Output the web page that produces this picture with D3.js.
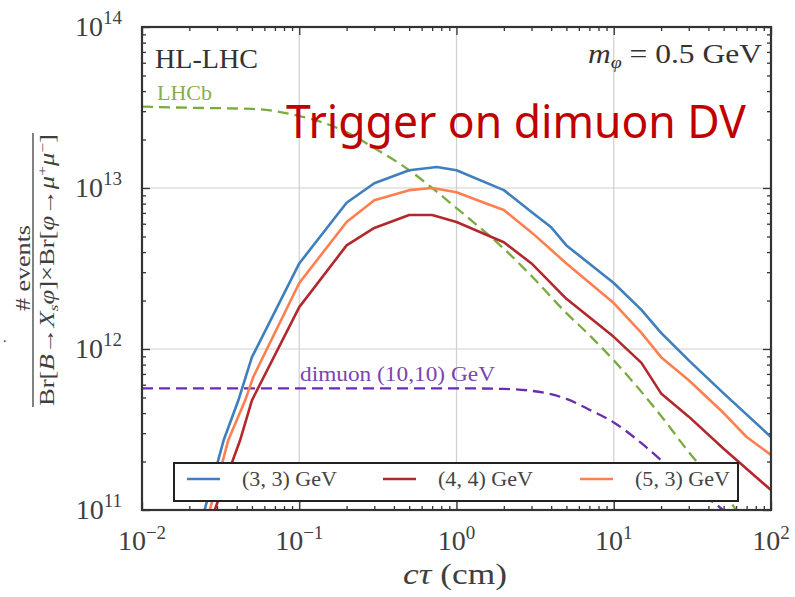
<!DOCTYPE html>
<html><head><meta charset="utf-8">
<script src="https://cdn.jsdelivr.net/npm/d3@7"></script>
<style>body{margin:0;background:#fff} svg{display:block}</style>
</head><body><svg id="c" width="795" height="597"></svg>
<script>
// ---- data ----
const ctBlue   = [0.02, 0.025, 0.033, 0.041, 0.05, 0.1, 0.2, 0.3, 0.5, 0.75, 1, 2, 3, 4, 5, 10, 15, 20, 30, 50, 100];
const nBlue    = [4.5e10, 1.0e11, 2.7e11, 4.8e11, 8.9e11, 3.4e12, 8.1e12, 1.07e13, 1.29e13, 1.35e13, 1.29e13, 9.7e12, 7.1e12, 5.7e12, 4.4e12, 2.57e12, 1.75e12, 1.26e12, 8.5e11, 5.3e11, 2.84e11];
const ctOrange = [0.022, 0.027, 0.0353, 0.0453, 0.051, 0.1, 0.2, 0.3, 0.5, 0.7, 1, 1.5, 2, 3, 5, 10, 15, 20, 30, 50, 70, 100];
const nOrange  = [4.5e10, 1.0e11, 2.7e11, 4.8e11, 6.7e11, 2.57e12, 6.15e12, 8.4e12, 9.7e12, 1.0e13, 9.4e12, 8.1e12, 7.3e12, 5.3e12, 3.4e12, 1.93e12, 1.26e12, 8.9e11, 6.4e11, 4.0e11, 2.84e11, 2.2e11];
const ctRed    = [0.024, 0.029, 0.042, 0.05, 0.1, 0.2, 0.3, 0.5, 0.7, 1, 2, 3, 5, 10, 15, 20, 30, 50, 100];
const nRed     = [4.5e10, 1.0e11, 2.7e11, 4.8e11, 1.82e12, 4.4e12, 5.65e12, 6.8e12, 6.8e12, 6.15e12, 4.6e12, 3.4e12, 2.05e12, 1.19e12, 8.2e11, 5.3e11, 3.8e11, 2.4e11, 1.33e11];
const ctLHCb   = [0.01, 0.02, 0.05, 0.1, 0.15, 0.2, 0.3, 0.5, 0.7, 1, 2, 3, 5, 7, 10, 20, 30, 50, 70];
const nLHCb    = [3.2e13, 3.15e13, 3.1e13, 2.8e13, 2.5e13, 2.22e13, 1.77e13, 1.29e13, 1.0e13, 7.5e12, 4.2e12, 2.84e12, 1.67e12, 1.22e12, 8.5e11, 3.84e11, 2.29e11, 1.28e11, 8e10];
const ctDimuon = [0.01, 1, 2, 3, 5, 7, 10, 15, 20, 30, 50, 70];
const nDimuon  = [5.7e11, 5.7e11, 5.65e11, 5.5e11, 4.9e11, 4.2e11, 3.5e11, 2.6e11, 2.04e11, 1.43e11, 0.99e11, 7e10];

const xTickExp = [-2, -1, 0, 1, 2];
const yTickExp = [11, 12, 13, 14];
const legendLabels = ["(3, 3) GeV", "(4, 4) GeV", "(5, 3) GeV"];

// ---- layout ----
const L = 142, R = 771, T = 27, B = 510;
const svg = d3.select("#c");
const x = d3.scaleLog().domain([1e-2, 1e2]).range([L, R]);
const y = d3.scaleLog().domain([1e11, 1e14]).range([B, T]);
const serif = "'Liberation Serif', 'DejaVu Serif', serif";
const txt = "#3f3f3f";

svg.append("defs").append("clipPath").attr("id", "clip")
  .append("rect").attr("x", L).attr("y", T).attr("width", R - L).attr("height", B - T);

// grid
const majorX = xTickExp.map(e => Math.pow(10, e));
const majorY = yTickExp.map(e => Math.pow(10, e));
const grid = svg.append("g").attr("stroke", "#d0d0d0").attr("stroke-width", 1.2);
majorX.slice(1, -1).forEach(v => grid.append("line").attr("x1", x(v)).attr("x2", x(v)).attr("y1", T).attr("y2", B));
majorY.slice(1, -1).forEach(v => grid.append("line").attr("y1", y(v)).attr("y2", y(v)).attr("x1", L).attr("x2", R));

// minor tick values
const minorX = [], minorY = [];
for (let e = -2; e < 2; e++) for (let k = 2; k <= 9; k++) minorX.push(k * Math.pow(10, e));
for (let e = 11; e < 14; e++) for (let k = 2; k <= 9; k++) minorY.push(k * Math.pow(10, e));

function addAxis(gen, tr, vals, size) {
  const g = svg.append("g").attr("transform", tr)
    .call(gen.tickValues(vals).tickSize(size).tickFormat(""));
  g.select(".domain").remove();
  g.selectAll(".tick line").attr("stroke", "#333").attr("stroke-width", 1.3);
}
addAxis(d3.axisBottom(x), `translate(0,${B})`, majorX, -8);
addAxis(d3.axisBottom(x), `translate(0,${B})`, minorX, -4);
addAxis(d3.axisTop(x), `translate(0,${T})`, majorX, -8);
addAxis(d3.axisTop(x), `translate(0,${T})`, minorX, -4);
addAxis(d3.axisLeft(y), `translate(${L},0)`, majorY, -8);
addAxis(d3.axisLeft(y), `translate(${L},0)`, minorY, -4);
addAxis(d3.axisRight(y), `translate(${R},0)`, majorY, -8);
addAxis(d3.axisRight(y), `translate(${R},0)`, minorY, -4);

// curves
const plot = svg.append("g").attr("clip-path", "url(#clip)");
function draw(cts, ns, color, dash, curve) {
  const pts = cts.map((c, i) => [c, ns[i]]);
  const line = d3.line().x(d => x(d[0])).y(d => y(d[1])).curve(curve);
  plot.append("path").attr("d", line(pts)).attr("fill", "none")
    .attr("stroke", color).attr("stroke-width", dash ? 2.3 : 2.6)
    .attr("stroke-dasharray", dash || null).attr("stroke-linejoin", "round");
}
const cBlue = "#3f7fbd", cRed = "#b3282d", cOrange = "#ff7f50", cGreen = "#7aab3f", cPurple = "#6a2db0";
draw(ctLHCb, nLHCb, cGreen, "11,6", d3.curveMonotoneX);
draw(ctDimuon, nDimuon, cPurple, "11,6", d3.curveMonotoneX);
draw(ctBlue, nBlue, cBlue, null, d3.curveLinear);
draw(ctRed, nRed, cRed, null, d3.curveLinear);
draw(ctOrange, nOrange, cOrange, null, d3.curveLinear);

// frame
svg.append("rect").attr("x", L).attr("y", T).attr("width", R - L).attr("height", B - T)
  .attr("fill", "none").attr("stroke", "#333").attr("stroke-width", 2.2);

// tick labels
xTickExp.forEach(e => {
  const t = svg.append("text").attr("x", x(Math.pow(10, e))).attr("y", 550)
    .attr("text-anchor", "middle").attr("font-family", serif).attr("font-size", 28).attr("fill", txt);
  t.append("tspan").text("10");
  t.append("tspan").attr("dy", -11).attr("font-size", 19).text(e < 0 ? "\u2212" + (-e) : String(e));
});
yTickExp.forEach(e => {
  const t = svg.append("text").attr("x", 122).attr("y", y(Math.pow(10, e)) + 9)
    .attr("text-anchor", "end").attr("font-family", serif).attr("font-size", 28).attr("fill", txt);
  t.append("tspan").text("10");
  t.append("tspan").attr("dy", -12).attr("font-size", 19).text(String(e));
});

// axis titles
const xt = svg.append("text").attr("x", 455).attr("y", 584).attr("text-anchor", "middle")
  .attr("font-family", serif).attr("font-size", 30).attr("fill", txt)
  .attr("textLength", 104).attr("lengthAdjust", "spacingAndGlyphs");
xt.append("tspan").attr("font-style", "italic").text("c\u03C4");
xt.append("tspan").text(" (cm)");

const yl = svg.append("g").attr("transform", "translate(33,270) rotate(-90)");
yl.append("text").attr("x", 2).attr("y", -3).attr("text-anchor", "middle")
  .attr("font-family", serif).attr("font-size", 21).attr("fill", txt)
  .attr("textLength", 86).attr("lengthAdjust", "spacingAndGlyphs").text("# events");
yl.append("line").attr("x1", -137).attr("x2", 137).attr("y1", 0).attr("y2", 0)
  .attr("stroke", txt).attr("stroke-width", 1.3);
const den = yl.append("text").attr("x", 0).attr("y", 21).attr("text-anchor", "middle")
  .attr("font-family", serif).attr("font-size", 20).attr("fill", txt)
  .attr("textLength", 272).attr("lengthAdjust", "spacingAndGlyphs");
den.append("tspan").text("Br[");
den.append("tspan").attr("font-style", "italic").text("B");
den.append("tspan").text("\u2192");
den.append("tspan").attr("font-style", "italic").text("X");
den.append("tspan").attr("font-style", "italic").attr("font-size", 13).attr("dy", 4).text("s");
den.append("tspan").attr("font-style", "italic").attr("dy", -4).text("\u03C6");
den.append("tspan").text("]\u00D7Br[");
den.append("tspan").attr("font-style", "italic").text("\u03C6");
den.append("tspan").text("\u2192");
den.append("tspan").attr("font-style", "italic").text("\u03BC");
den.append("tspan").attr("font-size", 13).attr("dy", -7).text("+");
den.append("tspan").attr("font-style", "italic").attr("dy", 7).text("\u03BC");
den.append("tspan").attr("font-size", 13).attr("dy", -7).text("\u2212");
den.append("tspan").attr("dy", 7).text("]");
svg.append("text").attr("x", 3).attr("y", 342).attr("font-family", serif).attr("font-size", 14).attr("fill", "#222").text(".");

// annotations
svg.append("text").attr("x", 155).attr("y", 68).attr("font-family", serif).attr("font-size", 27)
  .attr("fill", "#333").attr("textLength", 103).attr("lengthAdjust", "spacingAndGlyphs").text("HL-LHC");
svg.append("text").attr("x", 157).attr("y", 100).attr("font-family", serif).attr("font-size", 20)
  .attr("fill", "#86ad4e").attr("textLength", 55).attr("lengthAdjust", "spacingAndGlyphs").text("LHCb");
const mt = svg.append("text").attr("x", 762).attr("y", 63).attr("text-anchor", "end")
  .attr("font-family", serif).attr("font-size", 27).attr("fill", "#333")
  .attr("textLength", 174).attr("lengthAdjust", "spacingAndGlyphs");
mt.append("tspan").attr("font-style", "italic").text("m");
mt.append("tspan").attr("font-style", "italic").attr("font-size", 17).attr("dy", 5).text("\u03C6");
mt.append("tspan").attr("dy", -5).text(" = 0.5 GeV");
svg.append("text").attr("x", 300).attr("y", 381).attr("font-family", serif).attr("font-size", 20)
  .attr("fill", "#7a45b0").attr("textLength", 195).attr("lengthAdjust", "spacingAndGlyphs").text("dimuon (10,10) GeV");

// legend
const lg = svg.append("g");
lg.append("rect").attr("x", 174).attr("y", 463).attr("width", 564).attr("height", 38)
  .attr("fill", "#fff").attr("stroke", "#222").attr("stroke-width", 2);
const legX = [187, 383, 580];
[cBlue, cRed, cOrange].forEach((c, i) => {
  lg.append("line").attr("x1", legX[i]).attr("x2", legX[i] + 33).attr("y1", 479).attr("y2", 479)
    .attr("stroke", c).attr("stroke-width", 2.6);
  lg.append("text").attr("x", legX[i] + 55).attr("y", 486).attr("font-family", serif)
    .attr("font-size", 20).attr("fill", "#444").attr("textLength", 95)
    .attr("lengthAdjust", "spacingAndGlyphs").text(legendLabels[i]);
});

// overlay annotation
svg.append("text").attr("x", 286).attr("y", 138).attr("font-family", "'Noto Sans', 'Open Sans', sans-serif")
  .attr("font-size", 45).attr("fill", "#c00000").attr("textLength", 460)
  .attr("lengthAdjust", "spacingAndGlyphs").text("Trigger on dimuon DV");
</script></body></html>
